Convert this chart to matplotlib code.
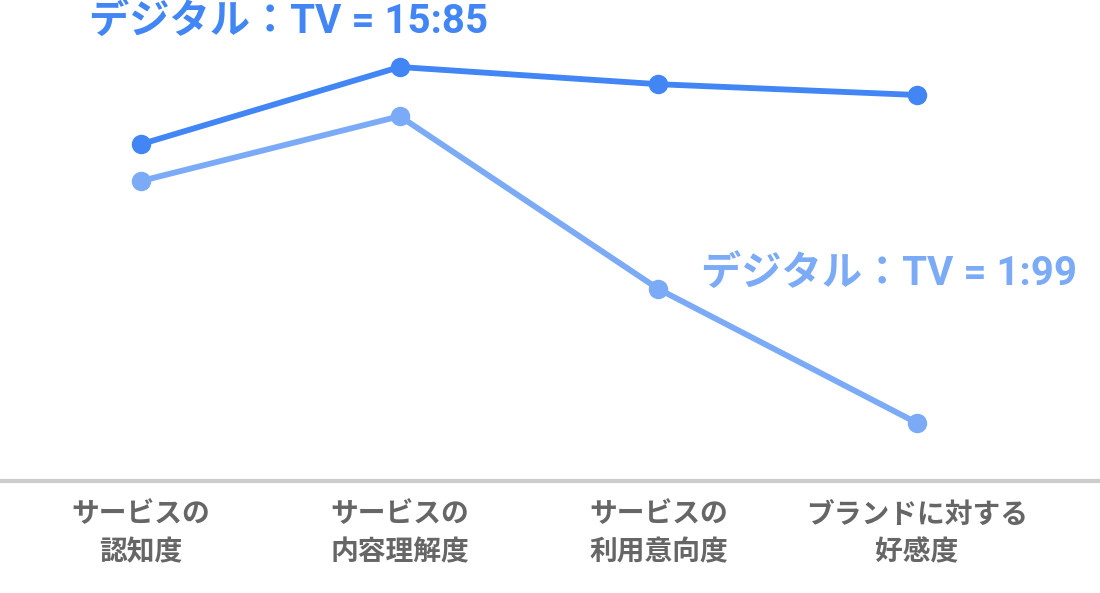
import matplotlib
matplotlib.use("Agg")
import matplotlib.pyplot as plt

categories = ["サービスの\n認知度", "サービスの\n内容理解度", "サービスの\n利用意向度", "ブランドに対する\n好感度"]
series_names = ["デジタル：TV = 15:85", "デジタル：TV = 1:99"]
values_15_85 = [84.2, 103.5, 99.2, 96.5]
values_1_99 = [75.0, 91.2, 48.0, 14.5]

colors = ["#4285F4", "#7BAAF7"]

plt.rcParams['font.family'] = ['Roboto', 'Noto Sans CJK JP', 'DejaVu Sans']

fig = plt.figure(figsize=(11, 5.93), dpi=100)
ax = fig.add_axes([0, 112/593, 1, 481/593])

x = list(range(len(categories)))
ax.plot(x, values_15_85, color=colors[0], lw=4.2, marker='o', ms=13, solid_capstyle='round', zorder=3)
ax.plot(x, values_1_99, color=colors[1], lw=4.2, marker='o', ms=13, solid_capstyle='round', zorder=2)

ax.set_xlim(-0.545, 3.707)
ax.set_ylim(0, 120.25)

for s in ['top', 'right', 'left']:
    ax.spines[s].set_visible(False)
ax.spines['bottom'].set_color('#cccccc')
ax.spines['bottom'].set_linewidth(3)
ax.set_yticks([])
ax.set_xticks(x)
ax.set_xticklabels(categories, fontsize=20, fontweight='bold', color='#666666', linespacing=1.45,
                   family=['Noto Sans CJK JP', 'DejaVu Sans'])
ax.tick_params(axis='x', length=0, pad=14)

ax.text(-0.2, 114.8, series_names[0], color=colors[0], fontsize=29, fontweight='bold',
        ha='left', va='center', clip_on=False)
ax.text(3.62, 51.7, series_names[1], color=colors[1], fontsize=29, fontweight='bold',
        ha='right', va='center', clip_on=False)

fig.savefig("out.png", dpi=100)
